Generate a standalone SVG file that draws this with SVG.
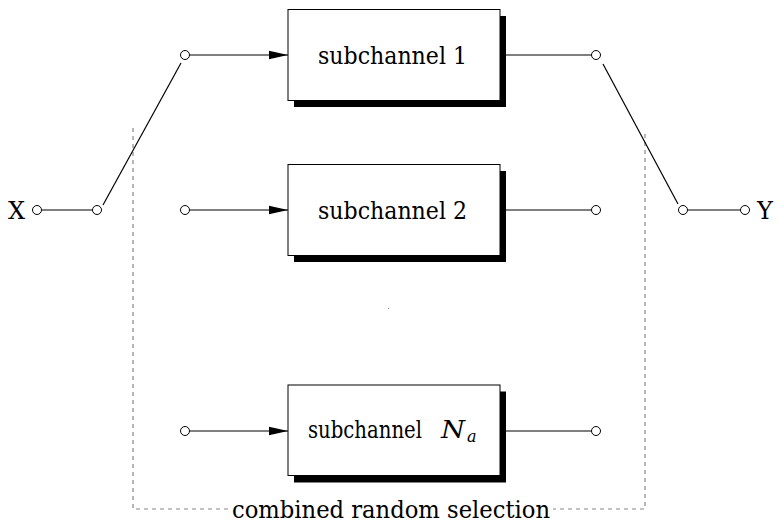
<svg xmlns="http://www.w3.org/2000/svg" width="778" height="523" viewBox="0 0 778 523">
<style>
.box{fill:#fff;stroke:#000;stroke-width:1}
.shadow{fill:#000}
.wire{stroke:#000;stroke-width:1.2;fill:none}
.term{fill:#fff;stroke:#000;stroke-width:1}
.lbl{font-family:"DejaVu Serif","Liberation Serif",serif;font-size:24px;fill:#000}
.it{font-style:italic}
.sub{font-size:16px}
.dash{fill:none;stroke:#888;stroke-width:1.2;stroke-dasharray:4,4}
</style>
<defs>
<marker id="arr" markerUnits="userSpaceOnUse" markerWidth="20" markerHeight="10" refX="19" refY="5" orient="auto">
<path d="M0,0.8 L19,5 L0,9.2 Z" fill="#000"/>
</marker>
</defs>
<rect x="0" y="0" width="778" height="523" fill="#fff"/>
<g id="selection-frame">
<path class="dash" d="M133,128 V509 H645 V130"/>
<rect x="229" y="502" width="324" height="21" fill="#fff"/>
<text class="lbl" x="232" y="518" textLength="318" lengthAdjust="spacingAndGlyphs">combined random selection</text>
</g>
<g id="connectors">
<line class="wire" x1="41.5" y1="210" x2="92.5" y2="210"/>
<line class="wire" x1="103" y1="205" x2="181" y2="63"/>
<line class="wire" x1="189.5" y1="55" x2="288" y2="55" marker-end="url(#arr)"/>
<line class="wire" x1="189.5" y1="210" x2="288" y2="210" marker-end="url(#arr)"/>
<line class="wire" x1="189.5" y1="431" x2="288" y2="431" marker-end="url(#arr)"/>
<line class="wire" x1="500" y1="55" x2="591.5" y2="55"/>
<line class="wire" x1="500" y1="210" x2="591.5" y2="210"/>
<line class="wire" x1="500" y1="431" x2="591.5" y2="431"/>
<line class="wire" x1="603" y1="64" x2="678" y2="204"/>
<line class="wire" x1="687.5" y1="210" x2="740.5" y2="210"/>
</g>
<g id="X">
<text class="lbl" x="8" y="219">X</text>
<circle class="term" cx="37" cy="210" r="4.5"/>
<circle class="term" cx="97" cy="210" r="4.5"/>
</g>
<g id="Y">
<circle class="term" cx="683" cy="210" r="4.5"/>
<circle class="term" cx="745" cy="210" r="4.5"/>
<text class="lbl" x="757" y="219">Y</text>
</g>
<g id="subchannel1">
<rect class="shadow" x="294" y="16" width="212" height="91"/>
<rect class="box" x="288" y="9.5" width="212" height="91"/>
<text class="lbl" x="318" y="64" textLength="149" lengthAdjust="spacingAndGlyphs">subchannel 1</text>
<circle class="term" cx="185" cy="55" r="4.5"/>
<circle class="term" cx="596" cy="55" r="4.5"/>
</g>
<g id="subchannel2">
<rect class="shadow" x="294" y="171" width="212" height="91"/>
<rect class="box" x="288" y="164.5" width="212" height="91"/>
<text class="lbl" x="318" y="219" textLength="149" lengthAdjust="spacingAndGlyphs">subchannel 2</text>
<circle class="term" cx="185" cy="210" r="4.5"/>
<circle class="term" cx="596" cy="210" r="4.5"/>
</g>
<rect x="388" y="308" width="1" height="1" fill="#888"/>
<g id="subchannelNa">
<rect class="shadow" x="294" y="391.5" width="212" height="91"/>
<rect class="box" x="288" y="385" width="212" height="90.5"/>
<text class="lbl" x="308" y="438" textLength="114" lengthAdjust="spacingAndGlyphs">subchannel</text>
<text class="lbl it" x="441" y="438" textLength="24" lengthAdjust="spacingAndGlyphs">N</text>
<text class="lbl it sub" x="467" y="442">a</text>
<circle class="term" cx="185" cy="431" r="4.5"/>
<circle class="term" cx="596" cy="431" r="4.5"/>
</g>
</svg>
